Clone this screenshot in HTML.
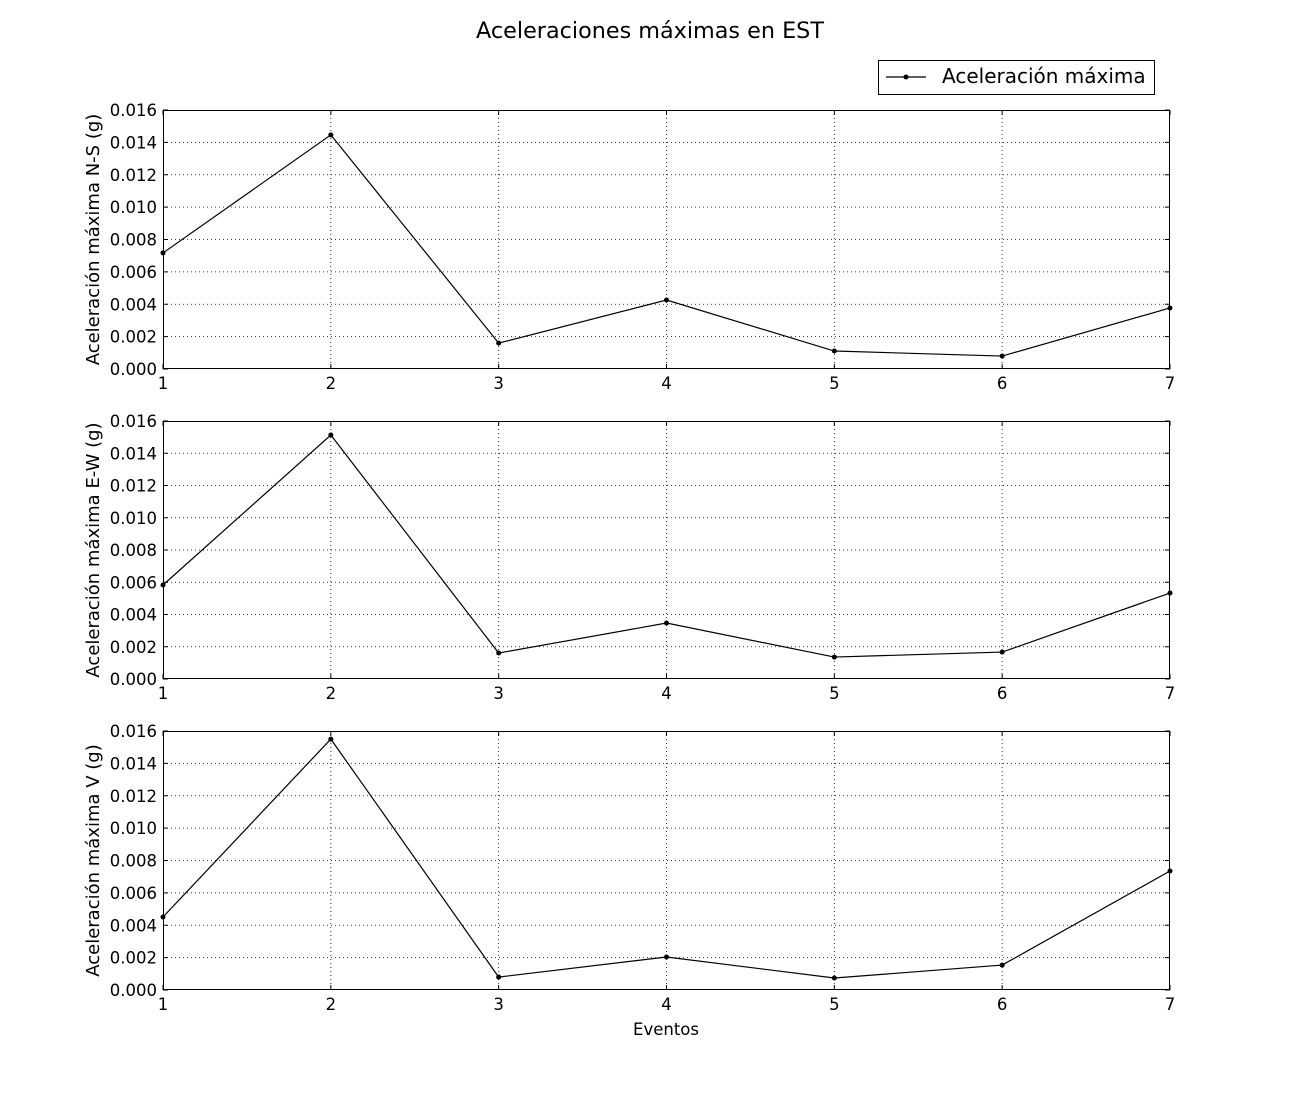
<!DOCTYPE html>
<html><head><meta charset="utf-8"><style>
body{margin:0;background:#fff}
svg{display:block;font-family:"DejaVu Sans","Liberation Sans",sans-serif}
</style></head><body>
<svg id="chart" width="1300" height="1100" xmlns="http://www.w3.org/2000/svg">
<rect width="1300" height="1100" fill="#fff"/>
<text x="650" y="38" font-size="22.3" text-anchor="middle">Aceleraciones máximas en EST</text>
<g>
<rect x="878.5" y="60.5" width="276" height="34" fill="#fff" stroke="#000"/>
<line x1="886" y1="77" x2="926" y2="77" stroke="#000" stroke-width="1.2"/>
<circle cx="906" cy="77" r="2.5" fill="#000"/>
<text x="942" y="83" font-size="20">Aceleración máxima</text>
</g>
</svg>
<script>
const categories = [1,2,3,4,5,6,7];
const nsValues = [0.00717,0.01446,0.0016,0.00426,0.00111,0.0008,0.00377];
const ewValues = [0.00583,0.01513,0.00161,0.00347,0.00136,0.00167,0.00533];
const vValues = [0.00451,0.0155,0.0008,0.00204,0.00074,0.00154,0.00735];
const yTicks = [0,0.002,0.004,0.006,0.008,0.010,0.012,0.014,0.016];
const yTickLabels = ["0.000","0.002","0.004","0.006","0.008","0.010","0.012","0.014","0.016"];
const panelTitles = ["Aceleración máxima N-S (g)","Aceleración máxima E-W (g)","Aceleración máxima V (g)"];
const series = [nsValues, ewValues, vValues];
const NS = "http://www.w3.org/2000/svg";
const svg = document.getElementById('chart');
const panels = [{top:110,bot:369},{top:421,bot:679},{top:731,bot:990}];
const L = 163, R = 1170;
function mk(tag, attrs, parent){const e=document.createElementNS(NS,tag);for(const k in attrs)e.setAttribute(k,attrs[k]);(parent||svg).appendChild(e);return e;}
panels.forEach((p,i)=>{
  const g = mk('g',{});
  
  
  const xs = v => L + (v-1)/(6)*(R-L);
  const ys = v => p.bot - v/0.016*(p.bot-p.top);
  categories.forEach(c=>{
    const x=xs(c);
    if(c>1&&c<7){const l=mk('line',{x1:x,x2:x,y1:p.top,y2:p.bot,stroke:'#000','stroke-dasharray':'1,3','stroke-width':0.8},g);
    
    }
    mk('line',{x1:x,x2:x,y1:p.bot,y2:p.bot-5,stroke:'#000'},g);
    mk('line',{x1:x,x2:x,y1:p.top,y2:p.top+5,stroke:'#000'},g);
    const t=mk('text',{x:x,y:p.bot+20,'font-size':16.5,'text-anchor':'middle'},g);t.textContent=c;
    
    
  });
  yTicks.forEach((v,k)=>{
    const y=ys(v);
    if(k>0&&k<yTicks.length-1){const l=mk('line',{x1:L,x2:R,y1:y,y2:y,stroke:'#000','stroke-dasharray':'1,3','stroke-width':0.8},g);
    
    }
    mk('line',{x1:L,x2:L+5,y1:y,y2:y,stroke:'#000'},g);
    mk('line',{x1:R,x2:R-5,y1:y,y2:y,stroke:'#000'},g);
    const t=mk('text',{x:L-6,y:y+6,'font-size':16.5,'text-anchor':'end'},g);t.textContent=yTickLabels[k];
    
    
  });
  const r=mk('rect',{x:L+0.5,y:p.top+0.5,width:R-L-1,height:p.bot-p.top-1,fill:'none',stroke:'#000'},g);
  
  
  const yl=mk('text',{x:0,y:0,'font-size':18,'text-anchor':'middle',transform:`translate(99,${(p.top+p.bot)/2}) rotate(-90)`},g);
  yl.textContent=panelTitles[i];
  
  
  const d=series[i].map((v,k)=>(k?'L':'M')+xs(categories[k])+','+ys(v)).join(' ');
  const pl=mk('path',{d:d,fill:'none',stroke:'#000','stroke-width':1.2},g);
  
  
  series[i].forEach((v,k)=>{
    const c=mk('circle',{cx:xs(categories[k]),cy:ys(v),r:2.5,fill:'#000'},g);
    
    
  });
});
const xt=mk('text',{x:666,y:1035,'font-size':16.5,'text-anchor':'middle'});
xt.textContent='Eventos';


</script>
</body></html>
